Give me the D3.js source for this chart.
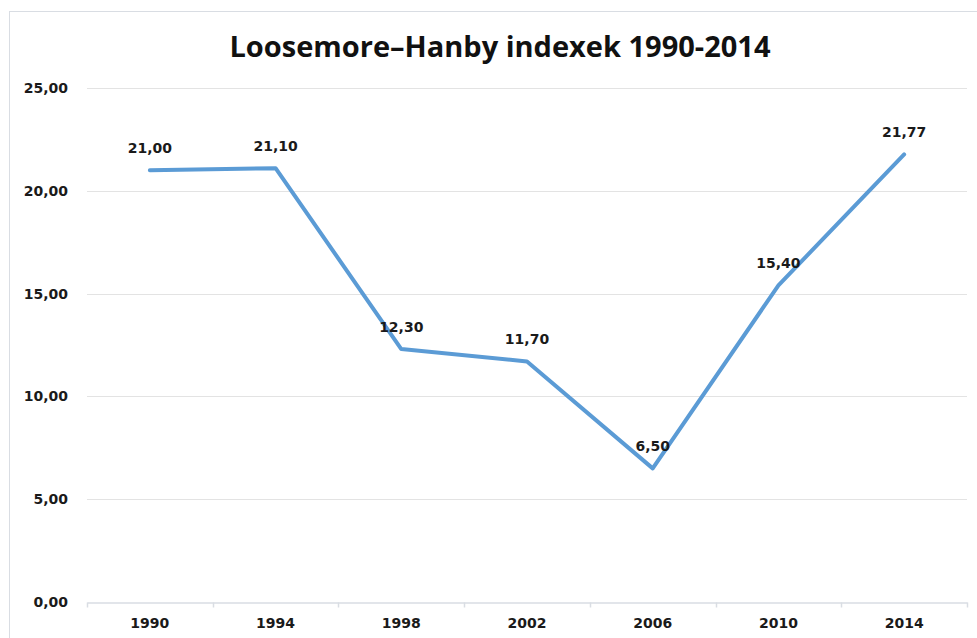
<!DOCTYPE html>
<html>
<head>
<meta charset="utf-8">
<script src="https://cdn.jsdelivr.net/npm/d3@7"></script>
<style>
  body { margin: 0; background: #fff; }
</style>
</head>
<body>
<div id="chart"></div>
<script>
// data
const years = ["1990", "1994", "1998", "2002", "2006", "2010", "2014"];
const values = [21.00, 21.10, 12.30, 11.70, 6.50, 15.40, 21.77];
const yTicks = [0, 5, 10, 15, 20, 25];

const width = 977, height = 638;
const margin = { top: 88, right: 10, bottom: 36, left: 87 };

const svg = d3.select("#chart")
  .append("svg")
  .attr("width", width)
  .attr("height", height);

// outer chart border
svg.append("rect")
  .attr("x", 9.5)
  .attr("y", 11.5)
  .attr("width", width + 20)
  .attr("height", height + 20)
  .attr("fill", "none")
  .attr("stroke", "#d9dde3");

const fmt = v => v.toFixed(2).replace(".", ",");

var x = d3.scaleBand()
  .domain(years)
  .range([margin.left, width - margin.right])
  .padding(0);

var y = d3.scaleLinear()
  .domain([0, 25])
  .range([height - margin.bottom, margin.top]);

// gridlines
svg.append("g")
  .selectAll("line")
  .data(yTicks.filter(d => d > 0))
  .enter()
  .append("line")
  .attr("x1", margin.left)
  .attr("x2", width - margin.right)
  .attr("y1", d => Math.round(y(d)) + 0.5)
  .attr("y2", d => Math.round(y(d)) + 0.5)
  .attr("stroke", "#e3e3e3");

// y labels
svg.append("g")
  .selectAll("text")
  .data(yTicks)
  .enter()
  .append("text")
  .attr("x", 68)
  .attr("y", d => y(d) + 5)
  .attr("text-anchor", "end")
  .style("font-family", "DejaVu Sans")
  .style("font-weight", "bold")
  .style("font-size", "14px")
  .attr("fill", "#1a1a1a")
  .text(fmt);

// x axis
const xAxis = svg.append("g")
  .attr("transform", "translate(0," + (Math.round(y(0)) + 0.5) + ")")
  .call(d3.axisBottom(x).tickSize(0).tickPadding(16));
xAxis.select(".domain").attr("stroke", "#d9dde3").attr("stroke-width", 1.5);
xAxis.selectAll("text")
  .style("font-family", "DejaVu Sans")
  .style("font-weight", "bold")
  .style("font-size", "14px")
  .attr("fill", "#1a1a1a");

// tick marks between categories
const edges = years.map(d => x(d)).concat([x(years[years.length - 1]) + x.bandwidth()]);
xAxis.selectAll(".edge")
  .data(edges)
  .enter()
  .append("line")
  .attr("x1", d => Math.round(d) + 0.5)
  .attr("x2", d => Math.round(d) + 0.5)
  .attr("y1", 0)
  .attr("y2", 5)
  .attr("stroke", "#d9dde3")
  .attr("stroke-width", 1.5);

// line
var line = d3.line()
  .x((d, i) => x(years[i]) + x.bandwidth() / 2)
  .y(d => y(d));

svg.append("path")
  .datum(values)
  .attr("d", line)
  .attr("fill", "none")
  .attr("stroke", "#5b9bd5")
  .attr("stroke-width", 4)
  .attr("stroke-linejoin", "round")
  .attr("stroke-linecap", "round");

// data labels
svg.append("g")
  .selectAll("text")
  .data(values)
  .enter()
  .append("text")
  .attr("x", (d, i) => x(years[i]) + x.bandwidth() / 2)
  .attr("y", d => y(d) - 17)
  .attr("text-anchor", "middle")
  .style("font-family", "DejaVu Sans")
  .style("font-weight", "bold")
  .style("font-size", "14px")
  .attr("fill", "#1a1a1a")
  .text(fmt);

// title
svg.append("text")
  .attr("x", 500)
  .attr("y", 57)
  .attr("text-anchor", "middle")
  .style("font-family", "Open Sans")
  .style("font-weight", "bold")
  .style("font-size", "29px")
  .attr("fill", "#111")
  .text("Loosemore–Hanby indexek 1990-2014");
</script>
</body>
</html>
